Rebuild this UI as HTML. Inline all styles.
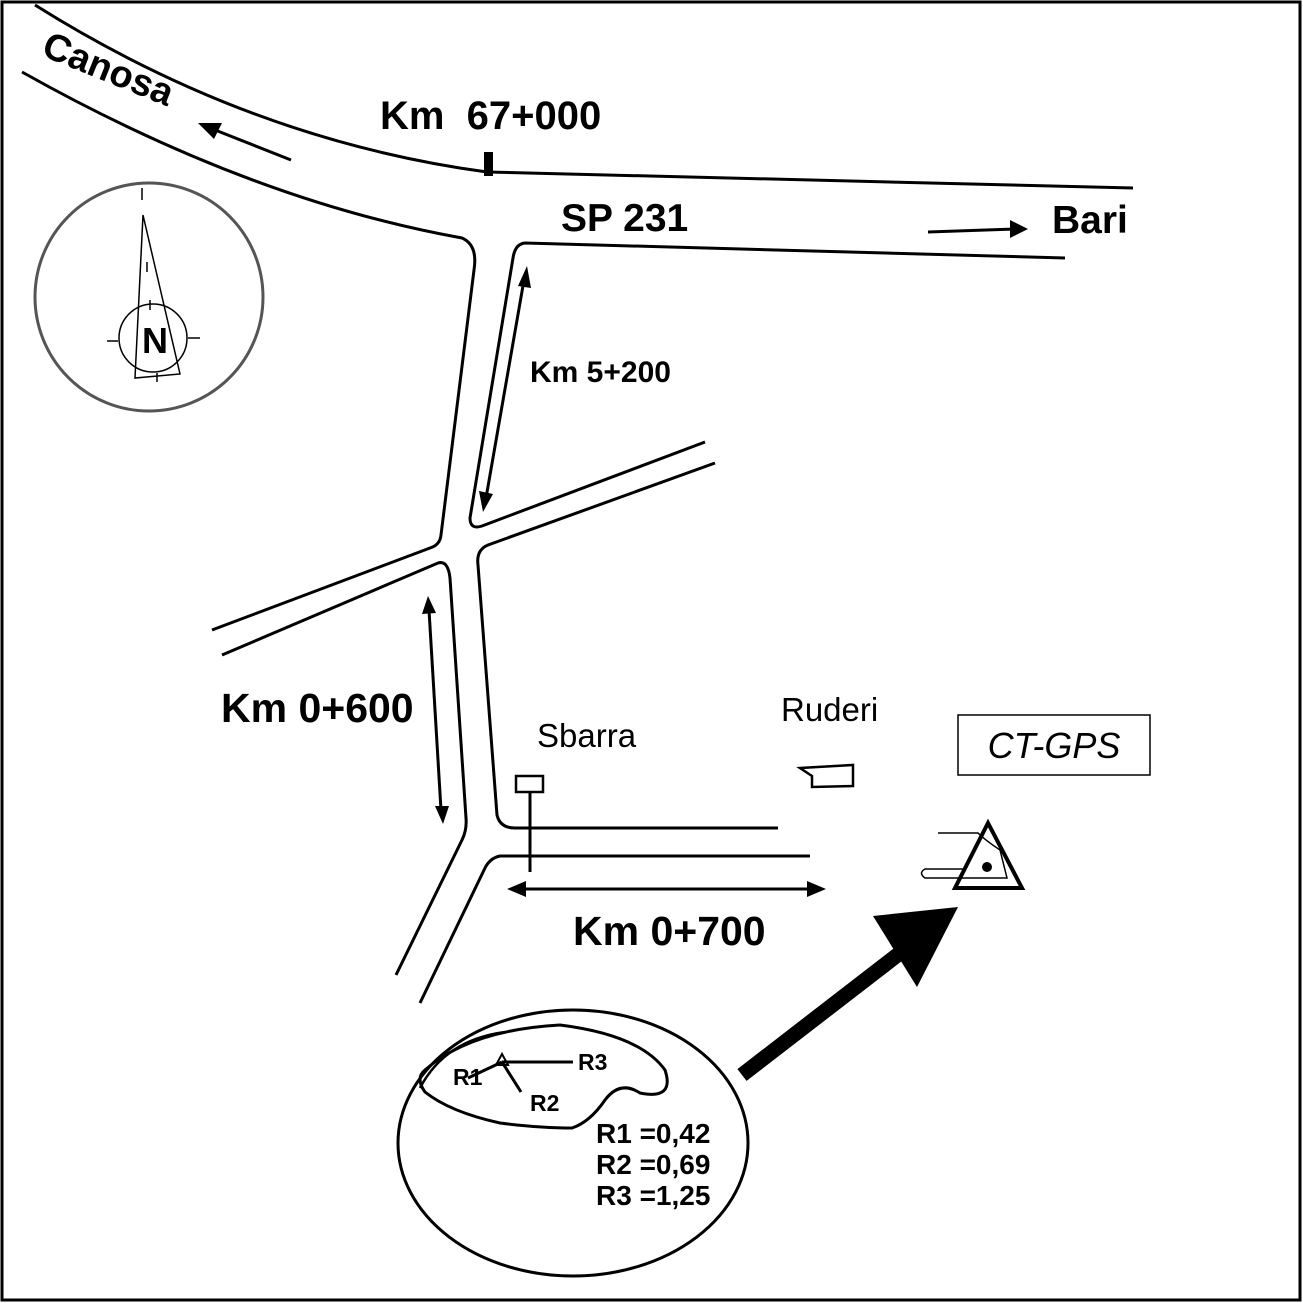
<!DOCTYPE html>
<html><head><style>body{margin:0;background:#fff}svg{display:block}text{font-family:"Liberation Sans",sans-serif;white-space:pre}</style></head>
<body>
<svg width="1303" height="1303" viewBox="0 0 1303 1303" xmlns="http://www.w3.org/2000/svg">
<rect x="2" y="2" width="1298" height="1298" fill="#fff" stroke="#000" stroke-width="3"/>
<g fill="none" stroke="#000" stroke-width="3">
<path d="M35,5 Q250,140 487,172 L1133,188"/>
<path d="M22,72 Q250,200 462,238 Q478,245 474,270 L441,535 Q440,545 430,548 L212,630"/>
<path d="M1065,258 L525,243 Q515,244 513,258 L470,518 Q470,530 482,526 L705,442"/>
<path d="M222,655 L438,563 Q448,560 450,578 L466,818 Q467,830 462,840 L396,975"/>
<path d="M715,463 L488,545 Q476,550 478,565 L497,815 Q500,828 515,828 L778,828"/>
<path d="M810,856 L500,856 Q490,858 485,868 L420,1003"/>
<path d="M291,160 L210,128"/><path d="M928,232 L1015,229"/>
<path d="M524,280 L486,498"/><path d="M429,610 L441,810"/><path d="M520,889 L812,889"/>
<path d="M530,793 L530,872"/>
<path d="M800,768 L853,765 L853,786 L812,787 L812,776 Z" stroke-width="2.5"/>
<ellipse cx="573" cy="1143" rx="175" ry="133"/>
<path d="M425,1070 Q470,1030 560,1025 Q640,1035 665,1070 Q675,1100 640,1093 Q620,1080 605,1100 Q590,1122 572,1128 Q540,1128 500,1123 Q450,1112 425,1092 Q415,1078 425,1070 Z"/>
<path d="M420,1088 Q445,1040 505,1032" stroke-width="2.5"/>
<path d="M502,1062 L573,1062 M502,1062 L521,1092 M502,1062 L468,1078"/>
</g>
<path d="M502,1054 L508,1065 L496,1065 Z" fill="none" stroke="#000" stroke-width="2"/>
<rect x="484" y="152" width="9" height="24" fill="#000"/>
<g fill="#000">
<polygon points="198,123 222,123 214,139"/>
<polygon points="1028,229 1010,220 1010,238"/>
<polygon points="527,266 518,286 531,288"/>
<polygon points="483,512 479,491 493,494"/>
<polygon points="428,596 422,614 436,613"/>
<polygon points="443,824 435,806 449,806"/>
<polygon points="507,889 526,881 526,897"/>
<polygon points="826,889 807,881 807,897"/>
</g>
<rect x="516" y="776" width="27" height="16" fill="#fff" stroke="#000" stroke-width="2.5"/>
<path d="M742,1075 L900,953" stroke="#000" stroke-width="15"/>
<polygon points="958,907 873,916 917,987" fill="#000"/>
<rect x="958" y="715" width="192" height="60" fill="none" stroke="#000" stroke-width="1.5"/>
<text x="1054" y="758" font-size="36" font-style="italic" text-anchor="middle">CT-GPS</text>
<polygon points="988,823 1022,888 955,888" fill="none" stroke="#000" stroke-width="4"/>
<circle cx="987" cy="867" r="5" fill="#000"/>
<path d="M938,833 L978,833 Q985,840 1000,850 Q1005,870 1007,878 L925,878 Q918,873 925,869 L965,869" fill="none" stroke="#000" stroke-width="1.5"/>
<g fill="none" stroke="#555" stroke-width="3"><circle cx="149" cy="297" r="114"/></g>
<g fill="none" stroke="#000" stroke-width="1.5">
<circle cx="153" cy="338" r="34"/>
<polygon points="143,215 135,378 180,374"/>
<path d="M142,188 L142,200 M147,262 L147,272 M150,300 L150,310 M107,341 L118,341 M188,338 L200,338 M157,373 L157,382"/>
</g>
<text x="155" y="353" font-size="36" font-weight="bold" text-anchor="middle">N</text>
<g font-weight="bold">
<text x="0" y="0" font-size="38" transform="translate(40,55) rotate(22)">Canosa</text>
<text x="380" y="129" font-size="40">Km  67+000</text>
<text x="561" y="231" font-size="39">SP 231</text>
<text x="1052" y="233" font-size="39">Bari</text>
<text x="530" y="382" font-size="30">Km 5+200</text>
<text x="221" y="722" font-size="41">Km 0+600</text>
<text x="573" y="945" font-size="41">Km 0+700</text>
<text x="453" y="1085" font-size="23">R1</text>
<text x="578" y="1070" font-size="23">R3</text>
<text x="530" y="1111" font-size="23">R2</text>
<text x="596" y="1143" font-size="28">R1 =0,42</text>
<text x="596" y="1174" font-size="28">R2 =0,69</text>
<text x="596" y="1205" font-size="28">R3 =1,25</text>
</g>
<text x="537" y="747" font-size="33">Sbarra</text>
<text x="781" y="721" font-size="33">Ruderi</text>
</svg>
</body></html>
